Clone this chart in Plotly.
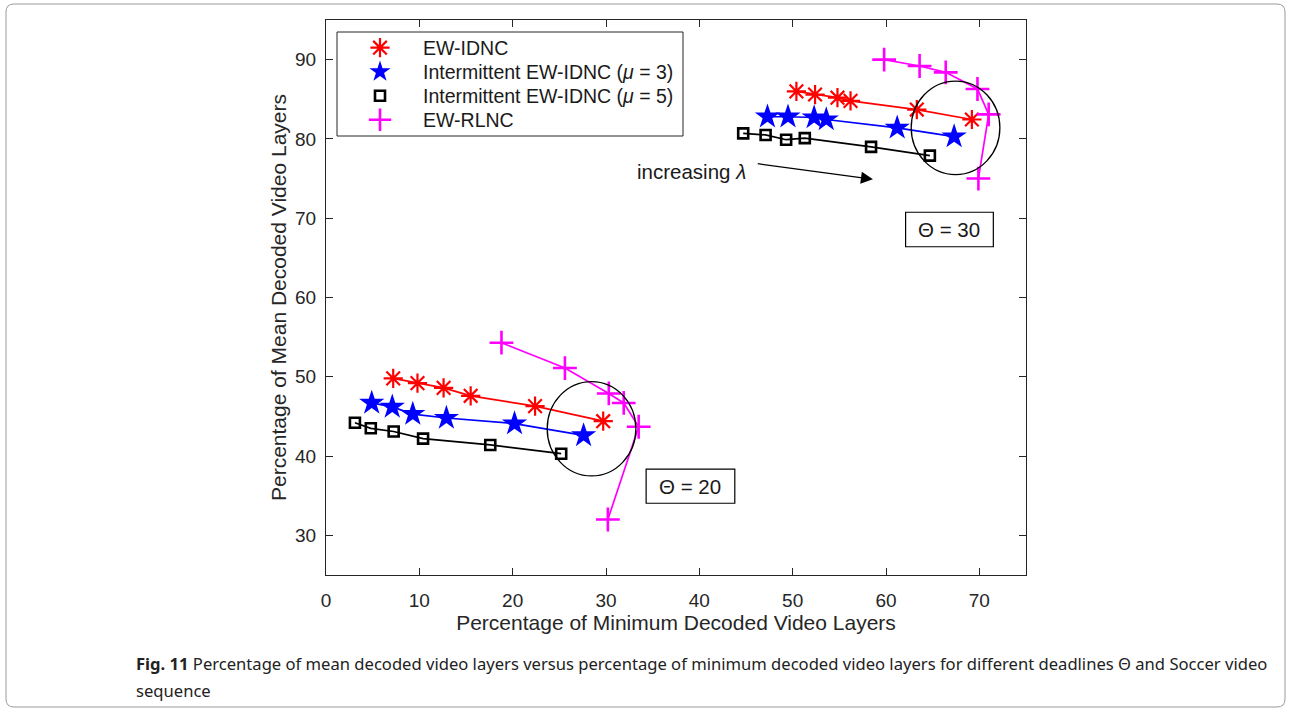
import plotly.graph_objects as go

# ---------------- data ----------------
# Theta = 20 cluster
idnc_20_x = [7.2, 9.8, 12.6, 15.5, 22.4, 29.7]
idnc_20_y = [49.8, 49.2, 48.6, 47.6, 46.3, 44.4]
mu3_20_x = [4.9, 7.1, 9.3, 12.9, 20.2, 27.6]
mu3_20_y = [46.7, 46.2, 45.3, 44.8, 44.1, 42.6]
mu5_20_x = [3.1, 4.8, 7.25, 10.4, 17.6, 25.2]
mu5_20_y = [44.2, 43.5, 43.1, 42.2, 41.4, 40.3]
rlnc_20_x = [18.8, 25.6, 30.3, 31.9, 33.5, 30.2]
rlnc_20_y = [54.3, 51.1, 47.9, 46.7, 43.7, 32.0]

# Theta = 30 cluster
idnc_30_x = [50.4, 52.4, 54.8, 56.2, 63.3, 69.2]
idnc_30_y = [86.0, 85.6, 85.2, 84.8, 83.7, 82.45]
mu3_30_x = [47.3, 49.5, 52.3, 53.6, 61.2, 67.3]
mu3_30_y = [82.8, 82.8, 82.7, 82.45, 81.4, 80.3]
mu5_30_x = [44.7, 47.1, 49.3, 51.3, 58.4, 64.7]
mu5_30_y = [80.7, 80.5, 79.9, 80.1, 79.0, 77.9]
rlnc_30_x = [59.8, 63.6, 66.4, 69.8, 71.0, 69.9]
rlnc_30_y = [90.0, 89.2, 88.4, 86.3, 83.1, 75.0]

series_names = ["EW-IDNC",
                "Intermittent EW-IDNC (<i>μ</i> = 3)",
                "Intermittent EW-IDNC (<i>μ</i> = 5)",
                "EW-RLNC"]

x_ticks = [0, 10, 20, 30, 40, 50, 60, 70]
y_ticks = [30, 40, 50, 60, 70, 80, 90]

caption_bold = "Fig. 11"
caption_line1 = ("Percentage of mean decoded video layers versus percentage of minimum decoded video layers "
                 "for different deadlines Θ and Soccer video")
caption_line2 = "sequence"

# ---------------- figure ----------------
W, H = 1291, 714
L, R, T, B = 326, 265, 20, 139
PW, PH = W - L - R, H - T - B


def px_x(p):
    return (p - L) / PW


def px_y(p):
    return (H - B - p) / PH


fig = go.Figure()


def join(a, b):
    return a + [None] + b


styles = [
    dict(color="#FF0000", symbol="asterisk-open", size=16, lw=2.2),
    dict(color="#0000FF", symbol="star", size=19, lw=0),
    dict(color="#000000", symbol="square-open", size=10, lw=2.6),
    dict(color="#FF00FF", symbol="cross-thin-open", size=17, lw=2.6),
]
xs = [join(idnc_20_x, idnc_30_x), join(mu3_20_x, mu3_30_x),
      join(mu5_20_x, mu5_30_x), join(rlnc_20_x, rlnc_30_x)]
ys = [join(idnc_20_y, idnc_30_y), join(mu3_20_y, mu3_30_y),
      join(mu5_20_y, mu5_30_y), join(rlnc_20_y, rlnc_30_y)]
legend_ids = ["legend", "legend2", "legend3", "legend4"]
legend_rows = [48, 72, 96, 120]   # pixel rows of the legend entries

for name, st, x, y, lg in zip(series_names, styles, xs, ys, legend_ids):
    marker = dict(symbol=st["symbol"], size=st["size"], color=st["color"])
    if st["lw"]:
        marker["line"] = dict(width=st["lw"], color=st["color"])
    fig.add_trace(go.Scatter(
        x=x, y=y, name=name, mode="lines+markers", showlegend=False,
        line=dict(color=st["color"], width=1.7),
        marker=marker, connectgaps=False,
    ))
    # legend-only entry (marker without line, like the reference legend)
    fig.add_trace(go.Scatter(
        x=[None], y=[None], name=name, mode="markers", showlegend=True,
        marker=marker, legend=lg,
    ))

# legend frame
fig.add_shape(type="rect", xref="paper", yref="paper",
              x0=px_x(337), x1=px_x(683), y0=px_y(136), y1=px_y(32),
              line=dict(color="#262626", width=1), fillcolor="white", layer="below")

# circles
fig.add_shape(type="circle", xref="x", yref="y", x0=23.7, x1=33.2, y0=37.5, y1=49.4,
              line=dict(color="black", width=1.3))
fig.add_shape(type="circle", xref="x", yref="y", x0=62.7, x1=72.2, y0=75.5, y1=87.3,
              line=dict(color="black", width=1.3))

# arrow + label
fig.add_annotation(x=58.6, y=74.9, ax=46.1, ay=76.9, xref="x", yref="y", axref="x", ayref="y",
                   text="", showarrow=True, arrowhead=2, arrowsize=2, arrowwidth=1.2,
                   arrowcolor="black")
fig.add_annotation(x=45.2, y=75.9, xref="x", yref="y", text="increasing <i>λ</i>",
                   showarrow=False, xanchor="right", yanchor="middle",
                   font=dict(family="Liberation Sans, Arial", size=20.5, color="#1a1a1a"))

# Theta boxes
for (bx0, bx1, by0, by1), (tx, ty), t in [((34.3, 43.8, 34.05, 38.35), (39.05, 36.2), "Θ = 20"),
                                            ((62.1, 71.5, 66.4, 70.75), (66.8, 68.6), "Θ = 30")]:
    fig.add_shape(type="rect", xref="x", yref="y", x0=bx0, x1=bx1, y0=by0, y1=by1,
                  line=dict(color="black", width=1.2), fillcolor="white", layer="above")
    fig.add_annotation(x=tx, y=ty, xref="x", yref="y", text=t, showarrow=False,
                       font=dict(family="Liberation Sans, Arial", size=20.5, color="#1a1a1a"))

# caption
fig.add_annotation(x=px_x(134), y=px_y(663), xref="paper", yref="paper",
                   xanchor="left", yanchor="middle", align="left", showarrow=False,
                   text="<b>" + caption_bold + "</b> " + caption_line1,
                   font=dict(family="Noto Sans, Open Sans", size=16.6, color="#222222"))
fig.add_annotation(x=px_x(134), y=px_y(690), xref="paper", yref="paper",
                   xanchor="left", yanchor="middle", align="left", showarrow=False,
                   text=caption_line2,
                   font=dict(family="Noto Sans, Open Sans", size=16.6, color="#222222"))

# outer rounded border
bx0, bx1, by_top, by_bot, rr = 6, 1285, 4, 707, 8
rx, ry = rr / PW, rr / PH
X0, X1, Y0, Y1 = px_x(bx0), px_x(bx1), px_y(by_bot), px_y(by_top)
path = (f"M {X0 + rx},{Y1} L {X1 - rx},{Y1} Q {X1},{Y1} {X1},{Y1 - ry} "
        f"L {X1},{Y0 + ry} Q {X1},{Y0} {X1 - rx},{Y0} L {X0 + rx},{Y0} "
        f"Q {X0},{Y0} {X0},{Y0 + ry} L {X0},{Y1 - ry} Q {X0},{Y1} {X0 + rx},{Y1} Z")
fig.add_shape(type="path", xref="paper", yref="paper", path=path,
              line=dict(color="#9a9a9a", width=1))

axis_common = dict(showgrid=False, zeroline=False, showline=True, linecolor="#262626",
                   linewidth=1, mirror="allticks", ticks="inside", ticklen=7,
                   tickcolor="#262626",
                   tickfont=dict(family="Liberation Sans, Arial", size=19, color="#262626"))

legend_common = dict(xanchor="left", yanchor="middle", borderwidth=0,
                     bgcolor="rgba(0,0,0,0)",
                     font=dict(family="Liberation Sans, Arial", size=19.5, color="#1a1a1a"),
                     itemwidth=76)

layout_legends = {lg: dict(x=px_x(337), y=px_y(row), **legend_common)
                  for lg, row in zip(legend_ids, legend_rows)}

fig.update_layout(
    width=W, height=H,
    margin=dict(l=L, r=R, t=T, b=B),
    paper_bgcolor="white", plot_bgcolor="white",
    xaxis=dict(range=[0, 75], tickvals=x_ticks, ticklabelstandoff=8,
               title=dict(text="Percentage of Minimum Decoded Video Layers", standoff=4,
                          font=dict(family="Liberation Sans, Arial", size=21, color="#262626")),
               **axis_common),
    yaxis=dict(range=[25, 95], tickvals=y_ticks, ticklabelstandoff=5,
               title=dict(text="Percentage of Mean Decoded Video Layers", standoff=2,
                          font=dict(family="Liberation Sans, Arial", size=21, color="#262626")),
               **axis_common),
    showlegend=True,
    **layout_legends,
)

fig.write_html("out.html", post_script="document.body.style.margin='0';",
               config={"displayModeBar": False})
